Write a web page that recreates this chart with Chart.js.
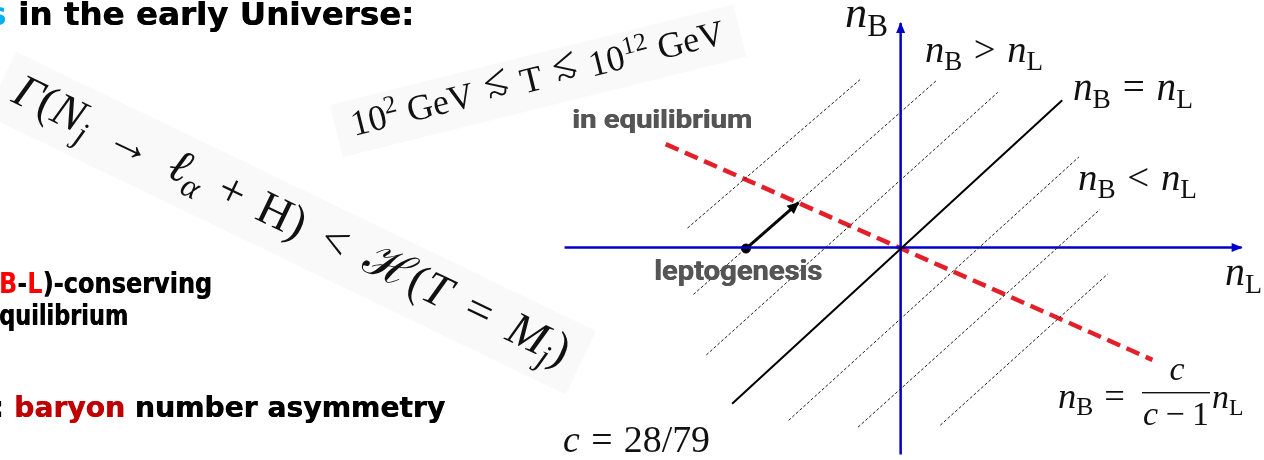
<!DOCTYPE html>
<html><head><meta charset="utf-8">
<script src="https://cdn.jsdelivr.net/npm/chart.js@4/dist/chart.umd.min.js"></script>
<style>html,body{margin:0;padding:0;background:#fff;overflow:hidden}#wrap{width:1264px;height:460px;position:relative}</style>
</head><body><div id="wrap"><canvas id="c"></canvas></div>
<script>
// ---- Data (diagram units: n_L horizontal, n_B vertical, origin where the axes cross) ----
const dashedStartL = [-21.5, -20.9, -19.6, -11.3, -4.3, 4.0];
const dashedStartB = [2.0, -4.8, -11.0, -17.7, -18.4, -18.2];
const dashedEndL   = [-4.1, 3.6, 9.8, 18.0, 20.1, 20.9];
const dashedEndB   = [17.2, 17.1, 15.9, 9.3, 3.9, -2.7];
const equalLineL = [-17.0, 16.3];          // n_B = n_L
const equalLineB = [-16.0, 15.1];
const equilibriumL = [-23.7, 25.4];        // n_B = c/(c-1) n_L
const equilibriumB = [10.6, -11.5];
const arrowL = [-15.6, -10.3];             // leptogenesis arrow
const arrowB = [-0.1, 4.6];
const axisNL_L = [-33.9, 34.4];
const axisNL_B = [0, 0];
const axisNB_L = [0, 0];
const axisNB_B = [-21.5, 23.0];
const rangeL = [-90.3, 36.1];
const rangeB = [-21.2, 24.8];

const pts = (xs, ys) => xs.map((x, i) => ({x: x, y: ys[i]}));

const datasets = [];
for (let i = 0; i < dashedStartL.length; i++) {
  datasets.push({data: pts([dashedStartL[i], dashedEndL[i]], [dashedStartB[i], dashedEndB[i]]),
    borderColor: '#1e1e1e', borderWidth: 1, borderDash: [3, 2]});
}
datasets.push({data: pts(equalLineL, equalLineB), borderColor: '#000', borderWidth: 2});
datasets.push({data: pts(axisNL_L, axisNL_B), borderColor: '#0000cc', borderWidth: 2.5, arrowHead: [10, 4.5]});
datasets.push({data: pts(axisNB_L, axisNB_B), borderColor: '#0000cc', borderWidth: 2.5, arrowHead: [10, 4.5]});
datasets.push({data: pts(equilibriumL, equilibriumB), borderColor: '#e3202a', borderWidth: 4.5, borderDash: [14, 7]});
datasets.push({data: pts(arrowL, arrowB), borderColor: '#000', borderWidth: 3, arrowHead: [11, 5.5]});
datasets.push({data: pts([arrowL[0]], [arrowB[0]]), showLine: false, pointRadius: 4.5,
  pointBackgroundColor: '#000', pointBorderColor: '#000'});
datasets.forEach(d => { if (d.showLine === undefined) d.showLine = true; if (d.pointRadius === undefined) d.pointRadius = 0; d.tension = 0; d.fill = false; });

// ---- text helpers ----
const SERIF = "'Liberation Serif','DejaVu Serif',serif";
function mfont(g, size) { return (g.i ? 'italic ' : '') + (size * (g.s || 1)).toFixed(2) + 'px ' + (g.f || SERIF); }
function measureSegs(ctx, segs, size, sp) {
  let w = 0; if (sp === undefined) sp = 1;
  for (const g of segs) { w += (g.dx || 0) * size * sp; ctx.font = mfont(g, size); w += ctx.measureText(g.t).width + (g.ax || 0) * size * sp; }
  return w;
}
function drawSegs(ctx, segs, x, y, size, color, sp) {
  let cx = x; if (sp === undefined) sp = 1;
  for (const g of segs) {
    cx += (g.dx || 0) * size * sp; ctx.font = mfont(g, size); ctx.fillStyle = g.c || color;
    const w = ctx.measureText(g.t).width;
    if (g.lesssim) {
      ctx.font = mfont({}, size * 1.25);
      const lw = ctx.measureText('<').width;
      ctx.fillText('<', cx + (w - lw) / 2, y - 0.12 * size);
      ctx.font = mfont({}, size * 1.05);
      const tw = ctx.measureText('~').width;
      ctx.fillText('~', cx + (w - tw) / 2, y + 0.16 * size);
    } else {
      ctx.fillText(g.t, cx, y + (g.dy || 0) * size);
    }
    cx += w + (g.ax || 0) * size * sp;
  }
  return cx;
}
// fixed font size, spacing stretched so the formula spans `width`
function mathSpaced(ctx, segs, x, y, size, width, angle, strip) {
  const w0 = measureSegs(ctx, segs, size, 0), w1 = measureSegs(ctx, segs, size, 1);
  const sp = Math.min(4, Math.max(0, (width - w0) / Math.max(1, w1 - w0)));
  ctx.save(); ctx.translate(x, y); ctx.rotate(angle * Math.PI / 180);
  if (strip) { ctx.fillStyle = 'rgba(0,0,0,0.022)'; ctx.fillRect(-16, -1.0 * size, width + 32, 1.5 * size); }
  drawSegs(ctx, segs, 0, 0, size, '#111', sp);
  ctx.restore();
}
function mathFit(ctx, segs, x, y, width) {
  const size = 100 * width / measureSegs(ctx, segs, 100);
  drawSegs(ctx, segs, x, y, size, '#111');
  return size;
}
function sansFit(ctx, segs, x, y, size, width, family, anchorFrom) {
  ctx.font = size + 'px ' + family;
  let w = 0, pre = 0;
  segs.forEach((g, i) => { const m = ctx.measureText(g.t).width; if (i < (anchorFrom || 0)) pre += m; else w += m; });
  const k = width / w;
  ctx.save(); ctx.translate(x - pre * k, y); ctx.scale(k, 1);
  let cx = 0;
  for (const g of segs) {
    ctx.fillStyle = g.c; ctx.fillText(g.t, cx, 0);
    if (g.heavy) { ctx.fillText(g.t, cx + 0.6, 0); }
    cx += ctx.measureText(g.t).width;
  }
  ctx.restore();
}
const it = t => ({t: t, i: 1});
const rm = t => ({t: t});
const sub = (t, ital) => ({t: t, s: 0.7, dy: 0.2, i: ital ? 1 : 0});
const sup = t => ({t: t, s: 0.7, dy: -0.38});
const op = (t, sp) => ({t: t, dx: sp, ax: sp});
const lsim = sp => ({t: '<', dx: sp, ax: sp, lesssim: 1});

const arrowPlugin = {
  id: 'arrows',
  afterDatasetsDraw(chart) {
    const ctx = chart.ctx;
    chart.data.datasets.forEach((ds, i) => {
      if (!ds.arrowHead) return;
      const d = chart.getDatasetMeta(i).data;
      const a = d[d.length - 2], b = d[d.length - 1];
      const ang = Math.atan2(b.y - a.y, b.x - a.x);
      const L = ds.arrowHead[0], H = ds.arrowHead[1];
      ctx.save(); ctx.translate(b.x, b.y); ctx.rotate(ang);
      ctx.fillStyle = ds.borderColor; ctx.beginPath();
      ctx.moveTo(1, 0); ctx.lineTo(-L, -H); ctx.lineTo(-L, H); ctx.closePath(); ctx.fill();
      ctx.restore();
    });
  }
};

const textPlugin = {
  id: 'texts',
  beforeDatasetsDraw(chart) {
    const ctx = chart.ctx;
    ctx.save(); ctx.textBaseline = 'alphabetic';
    mathSpaced(ctx, [it('Γ'), rm('('), it('N'), sub('j', 1), op('→', 0.3), it('ℓ'), sub('α', 1),
      op('+', 0.25), rm('H'), rm(')'), op('<', 0.3), {t: 'ℋ', f: "'DejaVu Serif',serif"}, rm('('), it('T'), op('=', 0.3), it('M'), sub('j', 1), rm(')')],
      10, 101, 47, 612, 25.7, true);
    mathSpaced(ctx, [rm('10'), sup('2'), {t: 'GeV', dx: 0.2}, lsim(0.3), rm('T'), lsim(0.3), rm('10'), sup('12'), {t: 'GeV', dx: 0.2}],
      354, 136, 36, 384, -14, true);
    ctx.restore();
  },
  afterDraw(chart) {
    const ctx = chart.ctx;
    ctx.save(); ctx.textBaseline = 'alphabetic';
    const SANS = "'DejaVu Sans',Verdana,sans-serif";
    sansFit(ctx, [{t: 's ', c: '#00b0f0'}, {t: 'in the early Universe:', c: '#000', heavy: 1}], 18, 25, 'bold 32', 396, SANS, 1);
    sansFit(ctx, [{t: 'B', c: '#ff0000'}, {t: '-', c: '#000'}, {t: 'L', c: '#ff0000'}, {t: ')-conserving', c: '#000', heavy: 1}], -1, 293, 'bold 28', 213, SANS);
    sansFit(ctx, [{t: 'quilibrium', c: '#000', heavy: 1}], -1, 325, 'bold 28', 129, SANS);
    sansFit(ctx, [{t: ': ', c: '#000'}, {t: 'baryon', c: '#c00000', heavy: 1}, {t: ' number asymmetry', c: '#000', heavy: 1}], 14, 417, 'bold 28', 431, SANS, 1);
    const ROB = "Roboto,'Liberation Sans',sans-serif";
    sansFit(ctx, [{t: 'in equilibrium', c: '#555', heavy: 1}], 572, 128, 'bold 25', 180, ROB);
    sansFit(ctx, [{t: 'leptogenesis', c: '#555', heavy: 1}], 654, 280, 'bold 27', 168, ROB);
    // axis / region labels
    const nB = [it('n'), sub('B')], nL = [it('n'), sub('L')];
    mathFit(ctx, nB, 845, 27, 43);
    mathFit(ctx, nL, 1225, 285, 37);
    mathFit(ctx, [...nB, op('>', 0.3), ...nL], 925, 62, 118);
    mathFit(ctx, [...nB, op('=', 0.3), ...nL], 1073, 100, 120);
    mathFit(ctx, [...nB, op('<', 0.3), ...nL], 1078, 190, 119);
    mathFit(ctx, [it('c'), op('=', 0.3), rm('28/79')], 563, 452, 147);
    // n_B = c/(c-1) n_L
    const S = 34;
    mathFit(ctx, [...nB, op('=', 0.3)], 1058, 408, 78);
    ctx.fillStyle = '#111'; ctx.fillRect(1142, 392, 68, 1.4);
    ctx.font = mfont({i: 1}, S); const cw = ctx.measureText('c').width;
    ctx.fillText('c', 1177 - cw / 2, 380);
    const den = [it('c'), op('−', 0.22), rm('1')];
    drawSegs(ctx, den, 1176 - measureSegs(ctx, den, S) / 2, 425, S, '#111');
    drawSegs(ctx, nL, 1212, 408, S, '#111');
    ctx.restore();
  }
};

new Chart(document.getElementById('c'), {
  type: 'scatter',
  data: {datasets: datasets},
  options: {
    responsive: true, maintainAspectRatio: false, animation: false, events: [],
    layout: {padding: 0},
    scales: {
      x: {type: 'linear', display: false, min: rangeL[0], max: rangeL[1]},
      y: {type: 'linear', display: false, min: rangeB[0], max: rangeB[1]}
    },
    plugins: {legend: {display: false}, tooltip: {enabled: false}}
  },
  plugins: [arrowPlugin, textPlugin]
});
</script></body></html>
